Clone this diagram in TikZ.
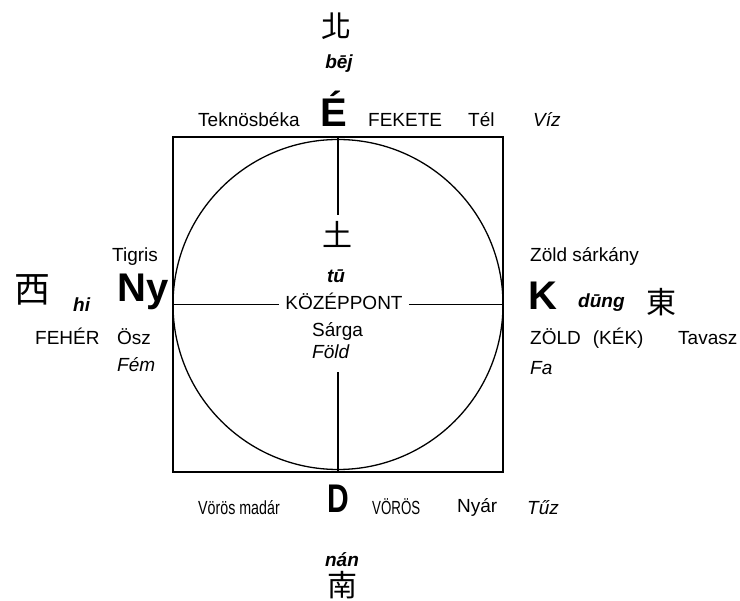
\documentclass[tikz,border=0pt]{standalone}
\usepackage{fontspec}
\setmainfont{Liberation Sans}
\newfontfamily\cjk{Noto Sans CJK TC}
\usetikzlibrary{positioning}

\begin{document}
\begin{tikzpicture}[x=1pt,y=-1pt,every node/.style={inner sep=0pt},
  lbl/.style={anchor=base west,font=\fontsize{19}{22}\selectfont},
  pin/.style={anchor=base west,font=\fontsize{19}{22}\selectfont\itshape},
  pinb/.style={anchor=base west,font=\fontsize{19}{22}\selectfont\bfseries\itshape},
  betu/.style={anchor=base,font=\fontsize{40}{44}\selectfont\bfseries},
  han/.style={font=\cjk\fontsize{30}{34}\selectfont},
  vonal/.style={line width=1.6pt}]
\useasboundingbox (0,0) rectangle (740,601);
% keret es kor
\draw[vonal] (173,137) rectangle (503,472);
\draw[line width=1.3pt] (338,304.5) circle[radius=165pt];
\coordinate (ntop) at (338,137);
\coordinate (sbot) at (338,472);
\coordinate (wmid) at (173,304.5);
\coordinate (emid) at (503,304.5);
% eszak
\node[han] (beijel) at (336,26) {北};
\node[pinb,anchor=base] (bej) at (339,69) {bēj};
\node[betu] (E) at (334,127) {É};
\node[lbl] (teknos) at (198,127) {Teknösbéka};
\node[lbl] (fekete) at (368,127) {FEKETE};
\node[lbl] (tel) at (468,127) {Tél};
\node[pin] (viz) at (533,127) {Víz};
% nyugat
\node[han,font=\cjk\fontsize{36}{40}\selectfont] (xijel) at (32,290) {西};
\node[pinb] (hi) at (73,312) {hi};
\node[betu,anchor=base west] (Ny) at (117,302) {Ny};
\node[lbl] (tigris) at (112,262) {Tigris};
\node[lbl] (feher) at (35,345) {FEHÉR};
\node[lbl] (osz) at (117,345) {Ösz};
\node[pin] (fem) at (117,372) {Fém};
% kelet
\node[lbl] (sarkany) at (530,262) {Zöld sárkány};
\node[betu,anchor=base west] (K) at (528,310) {K};
\node[pinb] (dung) at (578,308) {dūng};
\node[han] (dongjel) at (661,302) {東};
\node[lbl] (zold) at (530,345) {ZÖLD\hspace{12pt}(KÉK)};
\node[lbl] (tavasz) at (678,345) {Tavasz};
\node[pin] (fa) at (530,375) {Fa};
% kozep
\node[han] (fojel) at (337,234) {土};
\node[pinb,anchor=base] (tu) at (336,283) {tū};
\node[lbl,anchor=base,inner xsep=6pt] (kozep) at (344,310) {KÖZÉPPONT};
\node[lbl] (sarga) at (312,337) {Sárga};
\node[pin] (fold) at (312,359) {Föld};
% del
\node[lbl] (madar) at (198,515) {\scalebox{0.75}[1]{Vörös madár}};
\node[betu] (D) at (338,513) {\scalebox{0.75}[1]{D}};
\node[lbl] (voros) at (372,515) {\scalebox{0.7}[1]{VÖRÖS}};
\node[lbl] (nyar) at (457,513) {Nyár};
\node[pin] (tuz) at (527,515) {Tűz};
\node[pinb,anchor=base] (nan) at (342,567) {nán};
\node[han] (nanjel) at (342,585) {南};
% tengelyek
\draw[vonal] (ntop) -- ([yshift=6pt]ntop |- fojel.north);
\draw[vonal] (sbot) -- ([yshift=-13pt]sbot |- fold.base);
\draw[vonal] (wmid) -- (wmid -| kozep.west);
\draw[vonal] (kozep.east |- emid) -- (emid);
\end{tikzpicture}
\end{document}
